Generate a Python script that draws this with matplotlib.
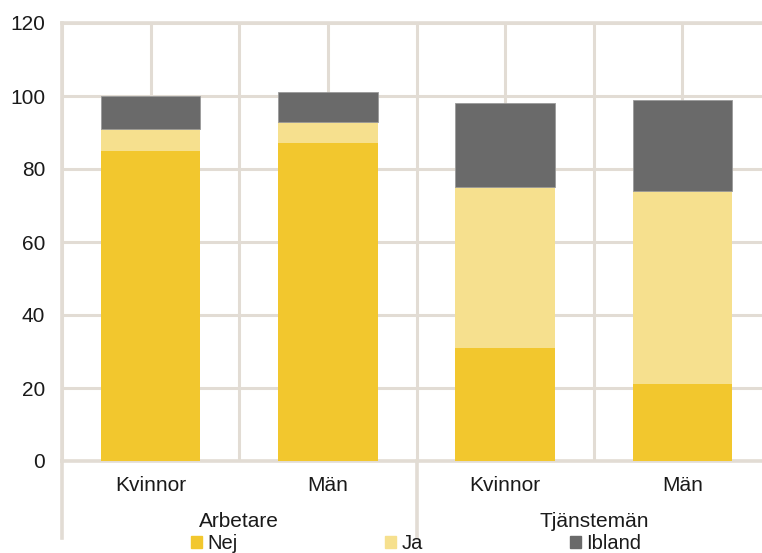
import matplotlib.pyplot as plt
import numpy as np
from matplotlib.patches import Patch

plt.rcParams['font.family'] = ['Liberation Sans', 'DejaVu Sans']

kategorier = ['Kvinnor', 'Män', 'Kvinnor', 'Män']
grupper = ['Arbetare', 'Tjänstemän']
nej = [85, 87, 31, 21]
ja = [6, 6, 44, 53]
ibland = [9, 8, 23, 25]

c_nej = '#F2C72E'
c_ja = '#F6E08E'
c_ibland = '#6A6A6A'
c_grid = '#E2DCD4'
c_text = '#1a1a1a'

fig = plt.figure(figsize=(7.62, 5.53), dpi=100)
ax = fig.add_axes([62/762, 92/553, 709/762, 438/553])

x = np.arange(len(kategorier))
w = 0.56
nej_a = np.array(nej)
ja_a = np.array(ja)
ax.bar(x, nej, w, color=c_nej, zorder=3)
ax.bar(x, ja, w, bottom=nej_a, color=c_ja, zorder=3)
ax.bar(x, ibland, w, bottom=nej_a + ja_a, color=c_ibland, zorder=3,
       edgecolor='#9a9a9a', linewidth=0.6)

ax.set_xlim(-0.5, 3.5)
ax.set_ylim(0, 120)
ax.set_yticks(np.arange(0, 121, 20))
ax.set_xticks(x)
ax.set_xticklabels(kategorier)
ax.set_xticks(np.arange(-0.5, 3.6, 1.0), minor=True)
ax.grid(True, which='both', axis='x', color=c_grid, linewidth=2.2, zorder=0)
ax.grid(True, which='major', axis='y', color=c_grid, linewidth=2.2, zorder=0)
ax.tick_params(which='both', length=0)
ax.tick_params(axis='y', pad=12, labelsize=15, labelcolor=c_text)
ax.tick_params(axis='x', pad=11, labelsize=15, labelcolor=c_text)
for s in ax.spines.values():
    s.set_color(c_grid)
    s.set_linewidth(2.6)
ax.spines['right'].set_visible(False)

trans = ax.get_xaxis_transform()
for xs in [-0.5, 1.5, 3.5]:
    ax.plot([xs, xs], [0, -0.176], color=c_grid, linewidth=2.6,
            transform=trans, clip_on=False)
for i, g in enumerate(grupper):
    ax.text(2*i + 0.5, -0.137, g, transform=trans, ha='center', va='center',
            fontsize=15, color=c_text)

handles = [Patch(color=c_nej), Patch(color=c_ja), Patch(color=c_ibland)]
fig.legend(handles, ['Nej', 'Ja', 'Ibland'], loc='center', ncol=3,
           bbox_to_anchor=(0.546, 0.0175), frameon=False, fontsize=14.5,
           handlelength=0.57, handleheight=0.57, handletextpad=0.26,
           columnspacing=7.3, borderpad=0, labelcolor=c_text)

fig.savefig('out.png', dpi=100)
